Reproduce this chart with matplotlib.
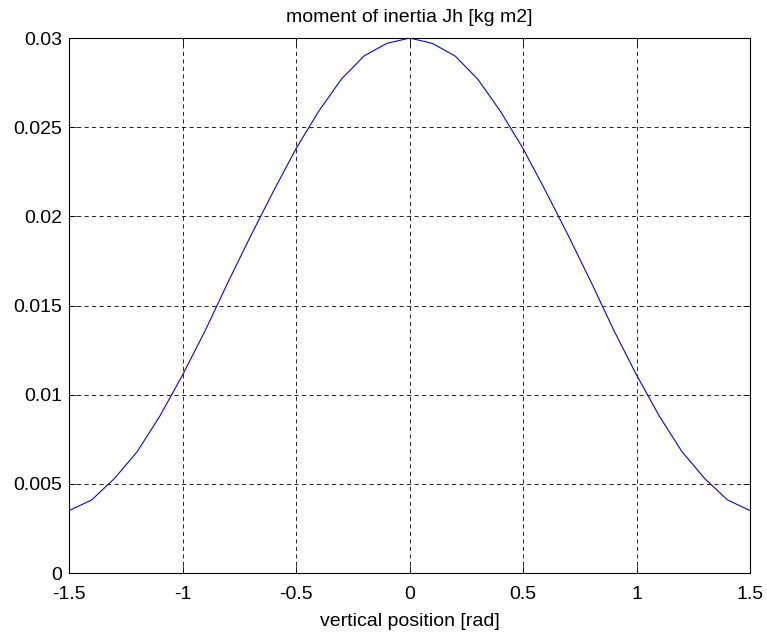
import matplotlib
matplotlib.use("Agg")
import matplotlib.pyplot as plt

x = [-1.5, -1.4, -1.3, -1.2, -1.1, -1.0, -0.9, -0.8, -0.7, -0.6, -0.5, -0.4, -0.3, -0.2, -0.1,
     0.0, 0.1, 0.2, 0.3, 0.4, 0.5, 0.6, 0.7, 0.8, 0.9, 1.0, 1.1, 1.2, 1.3, 1.4, 1.5]
half = [0.0035, 0.0041, 0.0053, 0.0068, 0.0088, 0.0111, 0.0136, 0.0163, 0.0189, 0.0214,
        0.0238, 0.0259, 0.0277, 0.0290, 0.0297]
jh = half + [0.0300] + half[::-1]

xticks = [-1.5, -1, -0.5, 0, 0.5, 1, 1.5]
xticklabels = ["-1.5", "-1", "-0.5", "0", "0.5", "1", "1.5"]
yticks = [0, 0.005, 0.01, 0.015, 0.02, 0.025, 0.03]
yticklabels = ["0", "0.005", "0.01", "0.015", "0.02", "0.025", "0.03"]

plt.rcParams['font.family'] = ['Liberation Sans', 'DejaVu Sans']
fig = plt.figure(figsize=(7.67, 6.35), dpi=100)
ax = fig.add_axes([0.090, 0.0976, 0.888, 0.8425])
ax.plot(x, jh, color='#0000ff', lw=0.8)
ax.set_xlim(-1.5, 1.5)
ax.set_ylim(0, 0.03)
ax.set_xticks(xticks)
ax.set_xticklabels(xticklabels)
ax.set_yticks(yticks)
ax.set_yticklabels(yticklabels)
ax.grid(True, color='black', linestyle=(0, (5, 4)), linewidth=0.6)
ax.tick_params(direction='in', top=True, right=True, labelsize=14, length=5, width=0.6)
ax.tick_params(axis='x', pad=9)
ax.tick_params(axis='y', pad=5)
for s in ax.spines.values():
    s.set_linewidth(0.8)
ax.set_title("moment of inertia Jh [kg m2]", fontsize=14, pad=11.5)
ax.set_xlabel("vertical position [rad]", fontsize=14, labelpad=7.5)
fig.savefig("out.png", dpi=100)
